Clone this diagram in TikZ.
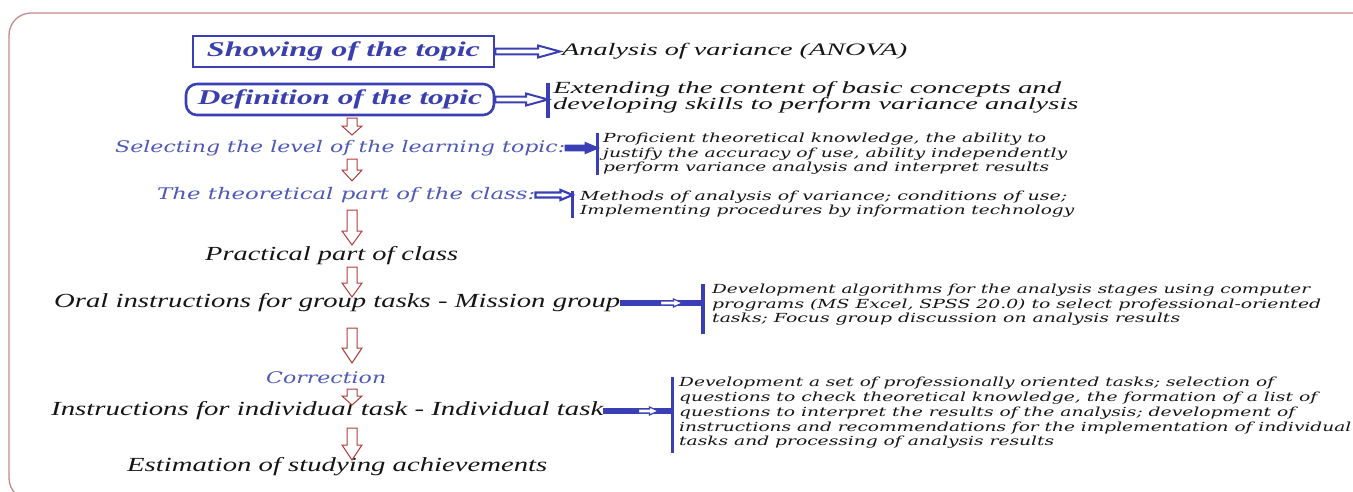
\documentclass[tikz,border=0pt]{standalone}
\usepackage{fontspec}
\setmainfont{Liberation Serif}
\newfontfamily\dvs{DejaVu Serif}
\usepackage{graphicx}
\usetikzlibrary{calc}
\definecolor{bline}{HTML}{3B3FB5}
\definecolor{btext}{HTML}{4E58B8}
\definecolor{ttl}{HTML}{3A3FAE}
\definecolor{txt}{HTML}{151515}
\definecolor{rarr}{HTML}{B23B3B}
\definecolor{bord}{HTML}{C48A8A}
\newcommand\rb[2]{\resizebox{#1pt}{\height}{#2}}
\newcommand\redarr[5]{\draw[rarrow] let \p1=(#1), \p2=(#2) in (\x1-#3,\y1) -- (\x1+#3,\y1) -- (\x1+#3,\y2+#5) -- (\x1+#4,\y2+#5) -- (\x1,\y2) -- (\x1-#4,\y2+#5) -- (\x1-#3,\y2+#5) -- cycle;}
\newcommand\hollowR[6]{\draw[#6] let \p1=(#1), \p2=(#2) in (\x1,\y1+#3) -- (\x2-#5,\y1+#3) -- (\x2-#5,\y1+#4) -- (\x2,\y1) -- (\x2-#5,\y1-#4) -- (\x2-#5,\y1-#3) -- (\x1,\y1-#3) -- cycle;}
\begin{document}
\begin{tikzpicture}[x=1pt,y=-1pt,
  tbox/.style={draw=bline, line width=2.6pt, text=ttl, font=\fontsize{21}{23}\selectfont\bfseries\itshape, inner sep=0pt},
  mtxt/.style={anchor=west, inner sep=0pt, text=txt, font=\fontsize{20}{22}\selectfont\itshape},
  btxt/.style={anchor=west, inner sep=0pt, text=btext, font=\dvs\fontsize{16}{18}\selectfont\itshape},
  desc/.style={anchor=north west, inner sep=0pt, align=left, text=txt},
  vbar/.style={draw=bline, line width=3.2pt},
  rarrow/.style={draw=rarr, line width=1pt, fill=white, line join=miter},
  harrow/.style={draw=bline, line width=2pt, fill=white, line join=miter},
  tlink/.style={draw=bline, line width=5.5pt}]
\useasboundingbox (0,0) rectangle (1353,491);
\clip (0,0) rectangle (1353,491);
\draw[draw=bord, line width=1.3pt, rounded corners=22pt] (9,13) rectangle (1375,500);

% title boxes
\node[tbox, minimum width=301pt, minimum height=31pt] (sb) at (343.5,51.5) {\rb{273}{Showing of the topic}};
\node[tbox, rounded corners=11pt, minimum width=308pt, minimum height=31pt] (db) at (340,99.5) {\rb{284}{Definition of the topic}};

\node[mtxt, font=\fontsize{17.5}{19}\selectfont\itshape] (an) at (562,51) {\rb{345}{Analysis of variance (ANOVA)}};
\node[desc, font=\fontsize{17}{16}\selectfont\itshape] (ext) at (553,81.5) {\rb{508}{Extending the content of basic concepts and}\\\rb{525}{developing skills to perform variance analysis}};

\node[btxt] (sel) at (115,148) {\rb{450}{Selecting the level of the learning topic:}};
\node[desc, font=\dvs\fontsize{12.5}{14.5}\selectfont\itshape] (prof) at (603,133) {\rb{443}{Proficient theoretical knowledge, the ability to}\\\rb{464}{justify the accuracy of use, ability independently}\\\rb{446}{perform variance analysis and interpret results}};

\node[btxt] (th) at (157,195) {\rb{378}{The theoretical part of the class:}};
\node[desc, font=\dvs\fontsize{12.5}{14}\selectfont\itshape] (meth) at (580,191) {\rb{487}{Methods of analysis of variance; conditions of use;}\\\rb{494}{Implementing procedures by information technology}};

\node[mtxt] (pr) at (205,256) {\rb{253}{Practical part of class}};
\node[mtxt] (oral) at (54,303) {\rb{566}{Oral instructions for group tasks - Mission group}};
\node[desc, font=\dvs\fontsize{12.5}{14.5}\selectfont\itshape] (dev) at (712,284) {\rb{598}{Development algorithms for the analysis stages using computer}\\\rb{609}{programs (MS Excel, SPSS 20.0) to select professional-oriented}\\\rb{468}{tasks; Focus group discussion on analysis results}};

\node[btxt] (cor) at (266,378) {\rb{120}{Correction}};
\node[mtxt] (ind) at (51,411) {\rb{552}{Instructions for individual task - Individual task}};
\node[desc, font=\dvs\fontsize{12.5}{14.8}\selectfont\itshape] (indd) at (679,377) {\rb{595}{Development a set of professionally oriented tasks; selection of}\\\rb{638}{questions to check theoretical knowledge, the formation of a list of}\\\rb{616}{questions to interpret the results of the analysis; development of}\\\rb{672}{instructions and recommendations for the implementation of individual}\\\rb{375}{tasks and processing of analysis results}};

\node[mtxt] (est) at (127,467) {\rb{420}{Estimation of studying achievements}};

% bars
\draw[vbar] ([shift={(-5pt,-1pt)}]ext.north west) -- ([shift={(-5pt,-4pt)}]ext.south west);
\draw[vbar] ([xshift=-5.5pt]prof.north west) -- ([xshift=-5.5pt]prof.south west);
\draw[vbar] ([xshift=-7.5pt]meth.north west) -- ([xshift=-7.5pt]meth.south west);
\draw[vbar] ([xshift=-9pt]dev.north west) -- ([shift={(-9pt,-8pt)}]dev.south west);
\draw[vbar] ([xshift=-6.5pt]indd.north west) -- ([shift={(-6.5pt,-4pt)}]indd.south west);

% blue connectors
\hollowR{sb.east}{[xshift=-2pt]an.west}{2.8pt}{6pt}{22pt}{harrow}
\hollowR{db.east}{[xshift=-5pt]ext.west}{2.8pt}{6pt}{22pt}{harrow}
\hollowR{sel.east}{[xshift=-5.5pt]prof.west}{2.5pt}{5pt}{12pt}{harrow, fill=bline, line width=1.8pt}
\hollowR{th.east}{[xshift=-7.5pt]meth.west}{2.5pt}{5pt}{12pt}{harrow, line width=2.2pt}
\draw[tlink] (oral.east) -- ($(dev.west |- oral.east)+(-9pt,0)$);
\hollowR{$(oral.east)+(40pt,0)$}{$(oral.east)+(62pt,0)$}{2pt}{4pt}{9pt}{harrow, line width=1.2pt}
\draw[tlink] (ind.east) -- ($(indd.west |- ind.east)+(-6.5pt,0)$);
\hollowR{$(ind.east)+(35pt,0)$}{$(ind.east)+(55pt,0)$}{2pt}{4pt}{9pt}{harrow, line width=1.2pt}

% red down arrows
\coordinate (r1a) at (352,118); \coordinate (r1b) at (352,135);
\coordinate (r2a) at (352,159); \coordinate (r2b) at (352,181);
\coordinate (r3a) at (352,210); \coordinate (r3b) at (352,245);
\coordinate (r4a) at (352,267); \coordinate (r4b) at (352,297);
\coordinate (r5a) at (352,328); \coordinate (r5b) at (352,363);
\coordinate (r6a) at (352,389); \coordinate (r6b) at (352,405);
\coordinate (r7a) at (352,428); \coordinate (r7b) at (352,460);
\redarr{r1a}{r1b}{5pt}{10pt}{9pt}
\redarr{r2a}{r2b}{5pt}{10pt}{11pt}
\redarr{r3a}{r3b}{5pt}{10pt}{14pt}
\redarr{r4a}{r4b}{5pt}{10pt}{14pt}
\redarr{r5a}{r5b}{5pt}{10pt}{15pt}
\redarr{r6a}{r6b}{5pt}{10pt}{9pt}
\redarr{r7a}{r7b}{5pt}{10pt}{15pt}
\end{tikzpicture}
\end{document}
